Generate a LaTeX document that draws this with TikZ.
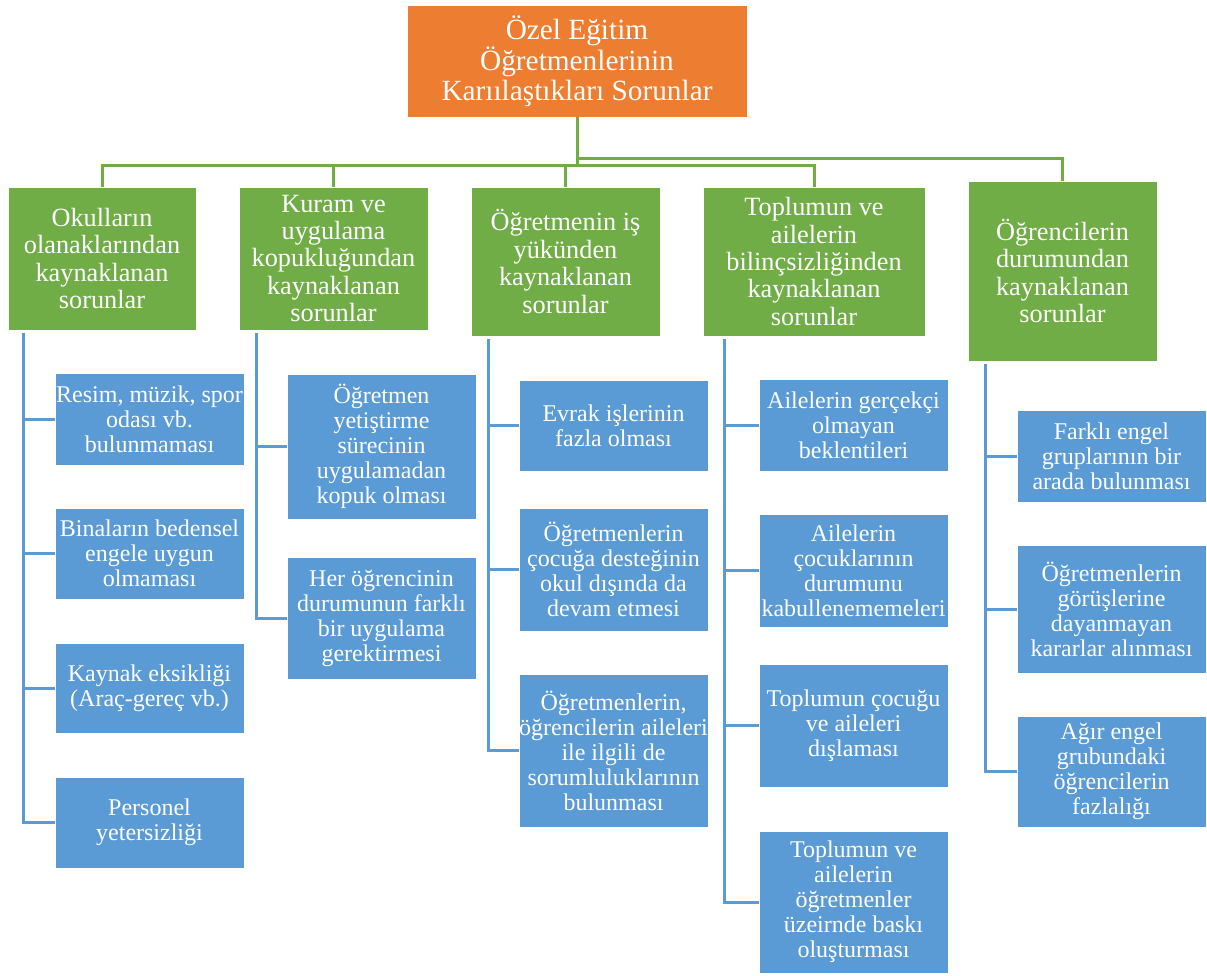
\documentclass[tikz,border=0pt]{standalone}
\usepackage{fontspec}
\setmainfont{Liberation Serif}
\usetikzlibrary{calc}
\definecolor{cOrange}{HTML}{ED7D31}
\definecolor{cGreen}{HTML}{70AD47}
\definecolor{cBlue}{HTML}{5B9BD5}
\tikzset{
  basebox/.style={draw=white, line width=0.8pt, text=white, align=center, inner xsep=0pt, inner ysep=0pt},
  rootbox/.style={basebox, fill=cOrange, font=\fontsize{29.3}{29.5}\selectfont},
  gbox/.style={basebox, fill=cGreen, font=\fontsize{26.3}{27.4}\selectfont},
  bbox/.style={basebox, fill=cBlue, font=\fontsize{24}{25}\selectfont, minimum width=189pt},
  gline/.style={draw=cGreen, line width=3pt},
  bline/.style={draw=cBlue, line width=3pt},
}
\begin{document}
\begin{tikzpicture}[x=1pt,y=-1pt]
\useasboundingbox (0,0) rectangle (1207,975);
% root
\node[rootbox, minimum width=340pt, minimum height=112pt] (root) at (577,61) {Özel Eğitim\\Öğretmenlerinin\\Karıılaştıkları Sorunlar};
% green level
\node[gbox, minimum width=188pt, minimum height=143pt] (g1) at (102,258.5) {Okulların\\olanaklarından\\kaynaklanan\\sorunlar};
\node[gbox, minimum width=189pt, minimum height=143pt] (g2) at (333.5,258.5) {Kuram ve\\uygulama\\kopukluğundan\\kaynaklanan\\sorunlar};
\node[gbox, minimum width=189pt, minimum height=149pt] (g3) at (565.5,261.5) {Öğretmenin iş\\yükünden\\kaynaklanan\\sorunlar};
\node[gbox, minimum width=222pt, minimum height=149pt] (g4) at (814,261.5) {Toplumun ve\\ailelerin\\bilinçsizliğinden\\kaynaklanan\\sorunlar};
\node[gbox, minimum width=189pt, minimum height=180pt] (g5) at (1062.5,271) {Öğrencilerin\\durumundan\\kaynaklanan\\sorunlar};
% blue column 1
\node[bbox, minimum height=92pt] (b11) at (149.5,419) {Resim, müzik, spor\\odası vb.\\bulunmaması};
\node[bbox, minimum height=91pt] (b12) at (149.5,553.5) {Binaların bedensel\\engele uygun\\olmaması};
\node[bbox, minimum height=90pt] (b13) at (149.5,688) {Kaynak eksikliği\\(Araç-gereç vb.)};
\node[bbox, minimum height=91pt] (b14) at (149.5,822.5) {Personel\\yetersizliği};
% blue column 2
\node[bbox, minimum height=145pt] (b21) at (381.5,446.5) {Öğretmen\\yetiştirme\\sürecinin\\uygulamadan\\kopuk olması};
\node[bbox, minimum height=122pt] (b22) at (381.5,618) {Her öğrencinin\\durumunun farklı\\bir uygulama\\gerektirmesi};
% blue column 3
\node[bbox, minimum height=91pt] (b31) at (613.5,425.5) {Evrak işlerinin\\fazla olması};
\node[bbox, minimum height=123pt] (b32) at (613.5,569.5) {Öğretmenlerin\\çocuğa desteğinin\\okul dışında da\\devam etmesi};
\node[bbox, minimum height=153pt] (b33) at (613.5,750.5) {Öğretmenlerin,\\öğrencilerin aileleri\\ile ilgili de\\sorumluluklarının\\bulunması};
% blue column 4
\node[bbox, minimum height=92pt] (b41) at (853.5,425) {Ailelerin gerçekçi\\olmayan\\beklentileri};
\node[bbox, minimum height=113pt] (b42) at (853.5,570.5) {Ailelerin\\çocuklarının\\durumunu\\kabullenememeleri};
\node[bbox, minimum height=123pt] (b43) at (853.5,725.5) {Toplumun çocuğu\\ve aileleri\\dışlaması};
\node[bbox, minimum height=142pt] (b44) at (853.5,902) {Toplumun ve\\ailelerin\\öğretmenler\\üzeirnde baskı\\oluşturması};
% blue column 5
\node[bbox, minimum height=92pt] (b51) at (1111.5,456) {Farklı engel\\gruplarının bir\\arada bulunması};
\node[bbox, minimum height=128pt] (b52) at (1111.5,609) {Öğretmenlerin\\görüşlerine\\dayanmayan\\kararlar alınması};
\node[bbox, minimum height=111pt] (b53) at (1111.5,771.5) {Ağır engel\\grubundaki\\öğrencilerin\\fazlalığı};
% green connectors
\coordinate (busA) at ($(root.south)+(0,48)$);
\coordinate (busB) at ($(root.south)+(0,41)$);
\draw[gline] (root.south) -- (busA);
\foreach \g in {g1,g2,g3,g4}{\draw[gline] (busA) -| (\g.north);}
\draw[gline] (busB) -| (g5.north);
% blue connectors
\coordinate (t1) at ($(g1.south west)+(16,3)$);
\coordinate (t2) at ($(g2.south west)+(18,3)$);
\coordinate (t3) at ($(g3.south west)+(18,3)$);
\coordinate (t4) at ($(g4.south west)+(22,3)$);
\coordinate (t5) at ($(g5.south west)+(18,3)$);
\foreach \b in {b11,b12,b13,b14}{\draw[bline] (t1) |- (\b.west);}
\foreach \b in {b21,b22}{\draw[bline] (t2) |- (\b.west);}
\foreach \b in {b31,b32,b33}{\draw[bline] (t3) |- (\b.west);}
\foreach \b in {b41,b42,b43,b44}{\draw[bline] (t4) |- (\b.west);}
\foreach \b in {b51,b52,b53}{\draw[bline] (t5) |- (\b.west);}
\end{tikzpicture}
\end{document}
